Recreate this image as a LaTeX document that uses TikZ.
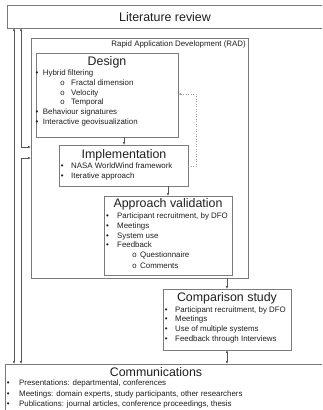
\documentclass[tikz,border=0pt]{standalone}
\usepackage{fontspec}
\setmainfont{Liberation Sans}
\newfontfamily\monof{Liberation Mono}
\usetikzlibrary{arrows.meta}
\definecolor{boxc}{HTML}{7A7A7A}
\definecolor{txtc}{HTML}{1E1E1E}
\definecolor{linec}{HTML}{555555}
\definecolor{dotc}{HTML}{A0A0A0}
\newcommand\bl[1]{\makebox[#1pt][l]{•}}
\newcommand\sbl[1]{\makebox[#1pt][l]{\monof o}}
\begin{document}
\begin{tikzpicture}[x=1pt,y=-1pt,
  box/.style={draw=boxc, line width=0.6pt, rectangle, anchor=north west, inner sep=0, outer sep=0},
  head/.style={font=\fontsize{12.4}{14}\selectfont, text=txtc, anchor=base, inner sep=0},
  txt/.style={font=\fontsize{7.9}{9}\selectfont, text=txtc, anchor=base west, inner sep=0},
  conn/.style={draw=linec, line width=0.45pt, -{Latex[length=2.8pt,width=2.2pt]}},
  dconn/.style={draw=linec, line width=0.45pt, {Latex[length=2.8pt,width=2.2pt]}-{Latex[length=2.8pt,width=2.2pt]}},
  dotconn/.style={draw=dotc, line width=0.5pt, dotted, -{Latex[length=2.8pt,width=2.2pt]}}]
\useasboundingbox (0,0) rectangle (322,410);
\clip (0,0) rectangle (322,410);
% boxes
\node[box, minimum width=316pt, minimum height=23pt] (lit) at (7,5) {};
\node[box, minimum width=217pt, minimum height=240pt] (rad) at (31,38) {};
\node[box, minimum width=142pt, minimum height=84pt] (design) at (36,53) {};
\node[box, minimum width=129pt, minimum height=41pt] (impl) at (59,145) {};
\node[box, minimum width=128pt, minimum height=79pt] (appr) at (104,196) {};
\node[box, minimum width=128pt, minimum height=61pt] (comp) at (163,289) {};
\node[box, minimum width=318pt, minimum height=60pt] (comm) at (5,364) {};
% texts
\node[head] (lithead) at (165,21.4) {Literature review};
\node[txt, anchor=base east] (radlbl) at (246,46.5) {Rapid Application Development (RAD)};
\node[head] (deshead) at (107,65) {Design};
\node[txt] (d1) at (35.3,75.4) {\bl{7.4}Hybrid filtering};
\node[txt] (d2) at (60,85) {\sbl{11}Fractal dimension};
\node[txt] (d3) at (60,95) {\sbl{11}Velocity};
\node[txt] (d4) at (60,104.7) {\sbl{11}Temporal};
\node[txt] (d5) at (35.3,114.4) {\bl{7.4}Behaviour signatures};
\node[txt] (d6) at (35.3,124) {\bl{7.4}Interactive geovisualization};
\node[head] (imphead) at (124,158.4) {Implementation};
\node[txt] (i1) at (60.6,168.7) {\bl{10.4}NASA WorldWind framework};
\node[txt] (i2) at (60.6,178.7) {\bl{10.4}Iterative approach};
\node[head] (apphead) at (168,207.4) {Approach validation};
\node[txt] (a1) at (106,218.7) {\bl{11}Participant recruitment, by DFO};
\node[txt] (a2) at (106,228.4) {\bl{11}Meetings};
\node[txt] (a3) at (106,238.4) {\bl{11}System use};
\node[txt] (a4) at (106,247.7) {\bl{11}Feedback};
\node[txt] (a5) at (132,257.7) {\sbl{8}Questionnaire};
\node[txt] (a6) at (132,268) {\sbl{8}Comments};
\node[head] (comphead) at (227,301.1) {Comparison study};
\node[txt] (c1) at (164.6,312) {\bl{10.4}Participant recruitment, by DFO};
\node[txt] (c2) at (164.6,321.7) {\bl{10.4}Meetings};
\node[txt] (c3) at (164.6,331.7) {\bl{10.4}Use of multiple systems};
\node[txt] (c4) at (164.6,341.4) {\bl{10.4}Feedback through Interviews};
\node[head] (commhead) at (156,376.4) {Communications};
\node[txt] (m1) at (6.6,385.4) {\bl{12.4}Presentations: departmental, conferences};
\node[txt] (m2) at (6.6,396) {\bl{12.4}Meetings: domain experts, study participants, other researchers};
\node[txt] (m3) at (6.6,406.7) {\bl{12.4}Publications: journal articles, conference proceedings, thesis};
% connectors
\coordinate (xa) at (14,0);
\coordinate (xb) at (21,0);
\coordinate (ya) at (0,147);
\coordinate (yb) at (0,158);
\coordinate (xc) at (124,0);
\coordinate (xd) at (168,0);
\coordinate (xe) at (227,0);
\coordinate (dk) at (196,94);
\coordinate (dl) at (0,166);
\draw[dconn] (lit.south -| xa) -- (comm.north -| xa);
\draw[dconn] (lit.south -| xb) |- (rad.west |- ya);
\draw[dconn] (comm.north -| xb) |- (rad.west |- yb);
\draw[conn] (design.south -| xc) -- (impl.north -| xc);
\draw[conn] (impl.south -| xd) -- (appr.north -| xd);
\draw[conn] (rad.south -| xe) -- (comp.north -| xe);
\draw[dconn] (comp.south -| xe) -- (comm.north -| xe);
\draw[dotconn] (impl.east |- dl) -| (dk) -- (design.east |- dk);
\end{tikzpicture}
\end{document}
